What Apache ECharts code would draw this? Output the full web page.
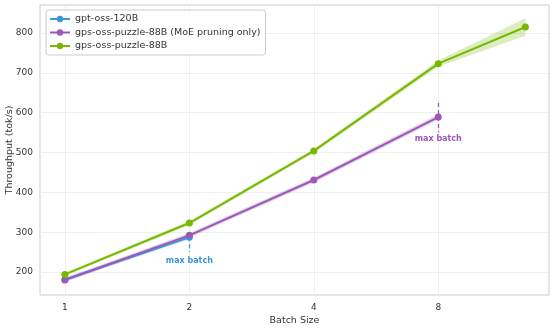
<!DOCTYPE html>
<html>
<head>
<meta charset="utf-8">
<script src="https://cdn.jsdelivr.net/npm/echarts@6/dist/echarts.min.js"></script>
<style>
  html, body { margin: 0; padding: 0; background: #fff; }
  #chartDiv { width: 555px; height: 329px; }
</style>
</head>
<body>
<div id="chartDiv"></div>
<script>
// 数据
let batchSizes = [1, 2, 4, 8, 13];
let tickBatches = [1, 2, 4, 8];

let blueName = 'gpt-oss-120B';
let blueVals = [181, 287];
let blueLo = [176, 282];
let blueHi = [186, 292];

let purpleName = 'gps-oss-puzzle-88B (MoE pruning only)';
let purpleVals = [180, 292, 431, 589];
let purpleLo = [175, 286, 425, 582];
let purpleHi = [185, 298, 437, 596];

let greenName = 'gps-oss-puzzle-88B';
let greenVals = [194, 323, 504, 723, 815];
let greenLo = [190, 318, 499, 715, 793];
let greenHi = [198, 328, 509, 731, 837];

// max batch 标注: [batch, 线起点, 线终点, 文字位置]
let blueMaxBatch = [2, 287, 250, 229];
let purpleMaxBatch = [8, 624, 551, 533];

let colors = { blue: '#3c97da', purple: '#9b59b6', green: '#76b900' };
let fontName = 'DejaVu Sans';

let myChart = echarts.init(document.getElementById('chartDiv'));
window.onresize = myChart.resize;

function lg(b) { return Math.log2(b); }

function pairs(vals) {
    let out = [];
    for (let i = 0; i < vals.length; i++) out.push([lg(batchSizes[i]), vals[i]]);
    return out;
}

// 置信带: 每段画一个四边形
function bandSeries(lo, hi, color) {
    let data = [];
    for (let i = 0; i < lo.length; i++) data.push([lg(batchSizes[i]), lo[i], hi[i]]);
    return {
        type: 'custom', silent: true, z: 1,
        data: data,
        encode: { x: 0, y: [1, 2] },
        renderItem: function (params, api) {
            let i = params.dataIndex;
            if (i >= data.length - 1) return null;
            let a = data[i], b = data[i + 1];
            let pts = [
                api.coord([a[0], a[1]]), api.coord([b[0], b[1]]),
                api.coord([b[0], b[2]]), api.coord([a[0], a[2]])
            ];
            return {
                type: 'polygon',
                shape: { points: pts },
                style: { fill: color, opacity: 0.25 }
            };
        }
    };
}

function maxBatch(ann, color) {
    return {
        markLine: {
            silent: true, symbol: 'none',
            lineStyle: { color: color, type: [4, 3], width: 1.3 },
            label: { show: false },
            data: [[{ coord: [lg(ann[0]), ann[1]] }, { coord: [lg(ann[0]), ann[2]] }]]
        },
        markPoint: {
            silent: true, symbol: 'circle', symbolSize: 0,
            label: {
                show: true, formatter: 'max batch', color: color,
                fontFamily: fontName, fontSize: 8, fontWeight: 'bold',
                position: 'inside'
            },
            data: [{ coord: [lg(ann[0]), ann[3]] }]
        }
    };
}

function mainLine(name, vals, color, ann) {
    return Object.assign({
        name: name, type: 'line', data: pairs(vals),
        symbol: 'circle', symbolSize: 7,
        itemStyle: { color: color },
        lineStyle: { color: color, width: 2 },
        z: 3
    }, ann ? maxBatch(ann, color) : {});
}

let series = [
    bandSeries(blueLo, blueHi, colors.blue),
    bandSeries(purpleLo, purpleHi, colors.purple),
    bandSeries(greenLo, greenHi, colors.green),
    mainLine(blueName, blueVals, colors.blue, blueMaxBatch),
    mainLine(purpleName, purpleVals, colors.purple, purpleMaxBatch),
    mainLine(greenName, greenVals, colors.green, null)
];

let axisText = { color: '#333', fontFamily: fontName, fontSize: 9 };

let option = {
    backgroundColor: '#fff',
    animation: false,
    textStyle: { fontFamily: fontName },
    grid: { left: 40, right: 6, top: 5, bottom: 34, containLabel: false,
            outerBoundsMode: 'none',
            show: true, borderColor: '#cccccc', borderWidth: 1 },
    legend: {
        data: [blueName, purpleName, greenName],
        orient: 'vertical', left: 46, top: 10,
        itemWidth: 20, itemHeight: 8, itemGap: 3.5,
        padding: [4, 5, 4, 3],
        borderColor: '#cccccc', borderWidth: 1, borderRadius: 3,
        backgroundColor: 'rgba(255,255,255,0.85)',
        textStyle: { color: '#333', fontFamily: fontName, fontSize: 9.5 }
    },
    xAxis: {
        type: 'value', min: -0.2, max: 3.89,
        name: 'Batch Size', nameLocation: 'middle', nameGap: 21,
        nameMoveOverlap: false,
        nameTextStyle: { color: '#333', fontFamily: fontName, fontSize: 9.5 },
        axisLine: { show: false },
        axisTick: { show: false, customValues: tickBatches.map(lg) },
        axisLabel: Object.assign({
            customValues: tickBatches.map(lg), margin: 8,
            formatter: function (v) { return String(Math.round(Math.pow(2, v))); }
        }, axisText),
        splitLine: { show: true, lineStyle: { color: '#ebebeb', width: 0.8 } }
    },
    yAxis: {
        type: 'value', min: 142.3, max: 870.3,
        name: 'Throughput (tok/s)', nameLocation: 'middle', nameGap: 25,
        nameMoveOverlap: false,
        nameTextStyle: { color: '#333', fontFamily: fontName, fontSize: 9.5 },
        axisLine: { show: false },
        axisTick: { show: false, customValues: [200, 300, 400, 500, 600, 700, 800] },
        axisLabel: Object.assign({ customValues: [200, 300, 400, 500, 600, 700, 800], margin: 7 }, axisText),
        splitLine: { show: true, lineStyle: { color: '#ebebeb', width: 0.8 } }
    },
    series: series
};
myChart.setOption(option);
</script>
</body>
</html>
